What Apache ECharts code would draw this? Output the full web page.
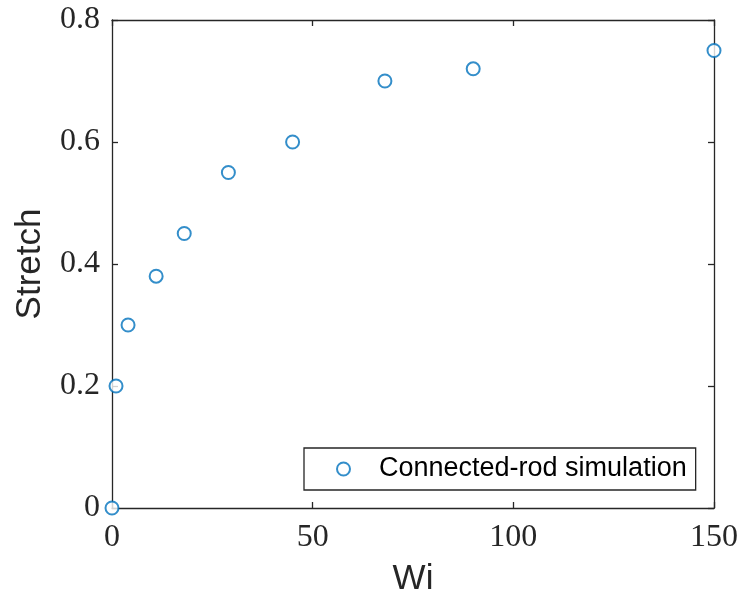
<!DOCTYPE html>
<html>
<head>
<meta charset="utf-8">
<script src="https://cdn.jsdelivr.net/npm/echarts@6/dist/echarts.min.js"></script>
<style>
  html, body { margin: 0; padding: 0; background: #fff; }
  #chart { width: 740px; height: 605px; }
</style>
</head>
<body>
<div id="chart"></div>
<script>
// Stretch versus Wi for the connected-rod simulation
const wi = [0, 1, 4, 11, 18, 29, 45, 68, 90, 150];
const stretch = [0, 0.2, 0.3, 0.38, 0.45, 0.55, 0.6, 0.7, 0.72, 0.75];
const seriesName = 'Connected-rod simulation';
const xTicks = { min: 0, max: 150, interval: 50 };
const yTicks = { min: 0, max: 0.8, interval: 0.2 };

const axisColor = '#262626';
const markerColor = '#0072BD';
const serif = '"Liberation Serif", "DejaVu Serif", serif';
const sans = '"Liberation Sans", Arial, sans-serif';

const lineStyle = { color: axisColor, width: 1.3 };
const tickStyle = { show: true, inside: true, length: 6, lineStyle: lineStyle };

const chart = echarts.init(document.getElementById('chart'), null, { renderer: 'canvas' });

chart.setOption({
  animation: false,
  backgroundColor: '#fff',
  grid: { left: 112, right: 26, top: 20, bottom: 97, containLabel: false, outerBoundsMode: 'none' },
  xAxis: [
    {
      type: 'value', position: 'bottom',
      min: xTicks.min, max: xTicks.max, interval: xTicks.interval,
      name: 'Wi', nameLocation: 'middle', nameGap: 54,
      nameTextStyle: { fontFamily: sans, fontSize: 35, color: axisColor },
      axisLine: { show: true, onZero: false, lineStyle: lineStyle },
      axisTick: tickStyle,
      axisLabel: { fontFamily: serif, fontSize: 32, color: axisColor, margin: 14 },
      splitLine: { show: false }
    },
    {
      type: 'value', position: 'top',
      min: xTicks.min, max: xTicks.max, interval: xTicks.interval,
      axisLine: { show: true, onZero: false, lineStyle: lineStyle },
      axisTick: tickStyle,
      axisLabel: { show: false },
      splitLine: { show: false }
    }
  ],
  yAxis: [
    {
      type: 'value', position: 'left',
      min: yTicks.min, max: yTicks.max, interval: yTicks.interval,
      name: 'Stretch', nameLocation: 'middle', nameGap: 64, nameRotate: 90,
      nameTextStyle: { fontFamily: sans, fontSize: 35, color: axisColor },
      axisLine: { show: true, onZero: false, lineStyle: lineStyle },
      axisTick: tickStyle,
      axisLabel: { fontFamily: serif, fontSize: 32, color: axisColor, margin: 12 },
      splitLine: { show: false }
    },
    {
      type: 'value', position: 'right',
      min: yTicks.min, max: yTicks.max, interval: yTicks.interval,
      axisLine: { show: true, onZero: false, lineStyle: lineStyle },
      axisTick: tickStyle,
      axisLabel: { show: false },
      splitLine: { show: false }
    }
  ],
  legend: {
    left: 304, top: 448,
    data: [seriesName],
    backgroundColor: '#fff',
    borderColor: axisColor, borderWidth: 1.3, borderRadius: 0,
    padding: [7, 9, 7, 32],
    itemWidth: 13, itemHeight: 13,
    textStyle: { fontFamily: sans, fontSize: 27, color: '#000', lineHeight: 28, padding: [0, 0, 0, 24] }
  },
  series: [
    {
      name: seriesName,
      type: 'scatter',
      xAxisIndex: 0, yAxisIndex: 0,
      symbol: 'emptyCircle',
      symbolSize: 13,
      itemStyle: { color: markerColor, borderColor: markerColor, borderWidth: 1.3 },
      data: wi.map((x, i) => [x, stretch[i]]),
      clip: false,
      z: 5
    }
  ]
});
</script>
</body>
</html>
